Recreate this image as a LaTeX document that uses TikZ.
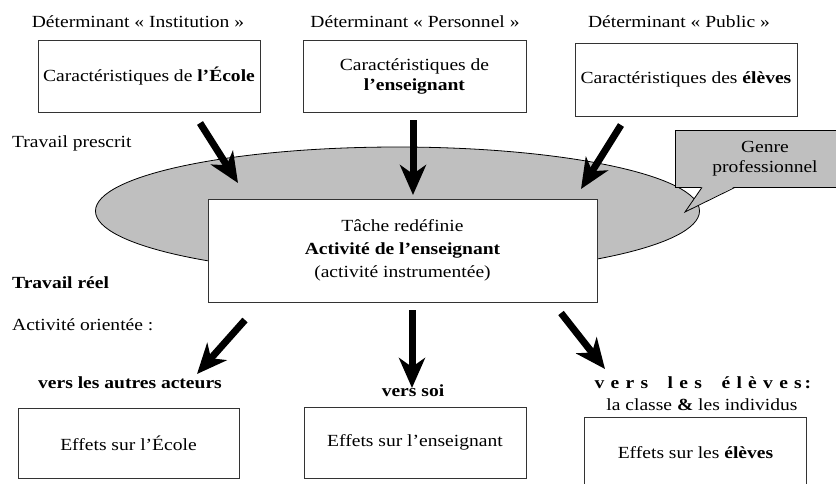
\documentclass[tikz,border=0pt]{standalone}
\usepackage{fontspec}
\setmainfont{Liberation Serif}[FakeStretch=1.15]
\usetikzlibrary{arrows.meta,shapes.geometric}
\begin{document}
\begin{tikzpicture}[x=1pt,y=-1pt,
  every node/.style={font=\fontsize{17}{20}\selectfont},
  box/.style={draw=black!80,line width=0.8pt,fill=white,inner sep=0pt,align=center},
  lbl/.style={inner sep=0pt,anchor=west},
  bigarrow/.style={line width=7pt,-{Stealth[length=30pt,width=26pt,inset=9pt]}}
]
\useasboundingbox (0,0) rectangle (836,483);
\clip (0,0) rectangle (836,483);
% top labels
\node (d1) at (138,22) {Déterminant « Institution »};
\node (d2) at (415,22) {Déterminant « Personnel »};
\node (d3) at (679,22) {Déterminant « Public »};
% top boxes
\node[box,minimum width=222pt,minimum height=72pt] (b1) at (149,76) {Caractéristiques de \textbf{l’École}};
\node[box,minimum width=223pt,minimum height=72pt] (b2) at (414.5,76) {Caractéristiques de\\\textbf{l’enseignant}};
\node[box,minimum width=222pt,minimum height=73pt] (b3) at (686,79.5) {Caractéristiques des \textbf{élèves}};
% left labels
\node[lbl] (tp) at (12,143) {Travail prescrit};
\node[lbl] (tr) at (12,283) {\textbf{Travail réel}};
\node[lbl] (ao) at (12,325) {Activité orientée :};
% ellipse
\node[ellipse,draw=black,line width=0.8pt,fill=black!25,minimum width=604pt,minimum height=128pt,inner sep=0pt] (ell) at (397.5,211) {};
% callout
\node[draw=black,line width=0.8pt,fill=black!25,minimum width=180pt,minimum height=57pt,inner sep=0pt,align=center,font=\fontsize{17}{20}\selectfont] (genre) at (765,158.5) {Genre\\professionnel};
\coordinate (gtip) at (685,212);
\fill[black!25] ([xshift=-63pt,yshift=1pt]genre.south) -- (gtip) -- ([xshift=-30pt,yshift=1pt]genre.south) -- cycle;
\draw[line width=0.8pt] ([xshift=-63pt]genre.south) -- (gtip) -- ([xshift=-30pt]genre.south);
% central box
\node[box,minimum width=389pt,minimum height=103pt,font=\fontsize{17}{23}\selectfont] (act) at (402.5,250.5) {Tâche redéfinie\\\textbf{Activité de l’enseignant}\\(activité instrumentée)};
% top arrows
\coordinate (a1s) at (200,123); \coordinate (a1e) at (238,183);
\coordinate (a2s) at (413,120); \coordinate (a2e) at (413,195);
\coordinate (a3s) at (621,125); \coordinate (a3e) at (581,189);
\draw[bigarrow] (a1s) -- (a1e);
\draw[bigarrow] (a2s) -- (a2e);
\draw[bigarrow] (a3s) -- (a3e);
% bottom arrows
\coordinate (c1s) at (245,320); \coordinate (c1e) at (197,374);
\coordinate (c2s) at (412,310); \coordinate (c2e) at (412,388);
\coordinate (c3s) at (561,313); \coordinate (c3e) at (605,369);
\draw[bigarrow] (c1s) -- (c1e);
\draw[bigarrow] (c2s) -- (c2e);
\draw[bigarrow] (c3s) -- (c3e);
% orientation labels
\node (v1) at (130,383) {\textbf{vers les autres acteurs}};
\node (v2) at (413,391) {\textbf{vers soi}};
\node (v3) at (706,383) {\textbf{\addfontfeature{LetterSpace=37}vers\hspace{1.15em}les\hspace{1.15em}élèves\,:}};
\node (v4) at (702,405) {la classe \textbf{\&} les individus};
% bottom boxes
\node[box,minimum width=221pt,minimum height=70pt] (e1) at (128.5,443) {Effets sur l’École};
\node[box,minimum width=222pt,minimum height=71pt] (e2) at (415,442.5) {Effets sur l’enseignant};
\node[box,minimum width=222pt,minimum height=80pt] (e3) at (695.5,457) {};
\node (e3t) at (695.5,453) {Effets sur les \textbf{élèves}};
\end{tikzpicture}
\end{document}
